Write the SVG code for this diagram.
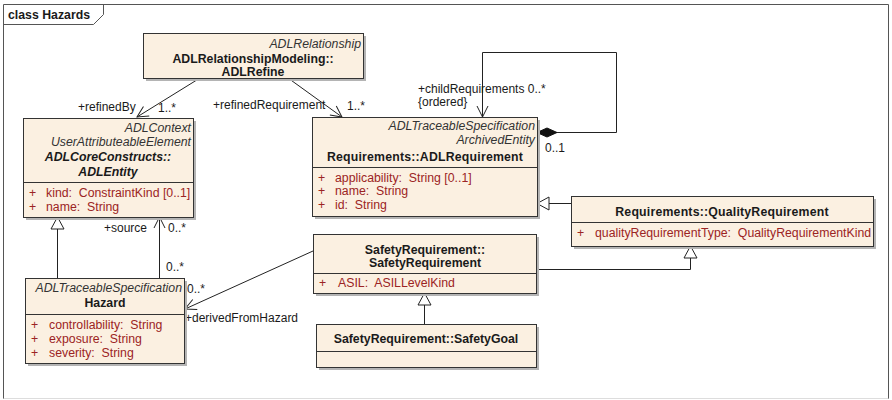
<svg xmlns="http://www.w3.org/2000/svg" width="892" height="400" viewBox="0 0 892 400">
  <style>
    text { font-family: "Liberation Sans", Arial, sans-serif; font-size: 12.3px; fill: #1a1a1a; white-space: pre; }
    .st { font-style: italic; fill: #333; }
    .nm { font-weight: bold; }
    .ni { font-weight: bold; font-style: italic; }
    .at { fill: #9b2424; }
    .lb { font-size: 12px; fill: #1a1a1a; }
    .box { fill: #fbf0e1; stroke: #333; stroke-width: 1; }
    .sh { fill: #b4b4b4; }
    .sep { stroke: #333; stroke-width: 1; }
    .ln { fill: none; stroke: #222; stroke-width: 1; }
    .frame { fill: none; stroke: #555; stroke-width: 1; }
  </style>
  <defs>
    <marker id="open" markerUnits="userSpaceOnUse" markerWidth="14" markerHeight="12" refX="11" refY="5.5" orient="auto" overflow="visible">
      <path d="M0,0 L11,5.5 L0,11" fill="none" stroke="#222" stroke-width="1"/>
    </marker>
    <marker id="gen" markerUnits="userSpaceOnUse" markerWidth="14" markerHeight="14" refX="12" refY="6.5" orient="auto" overflow="visible">
      <path d="M0,0 L12,6.5 L0,13 Z" fill="#fff" stroke="#222" stroke-width="1"/>
    </marker>
    <marker id="comp" markerUnits="userSpaceOnUse" markerWidth="22" markerHeight="10" refX="0" refY="4.5" orient="auto" overflow="visible">
      <path d="M0,4.5 L10,0 L20,4.5 L10,9 Z" fill="#111" stroke="#111" stroke-width="1"/>
    </marker>
  </defs>

  <!-- diagram frame -->
  <g id="frame">
    <path class="frame" d="M3.5,399 V4.5 H888.5 V399"/>
    <path d="M3.5,398.5 H888.5" stroke="#ddd" stroke-width="1"/>
    <path class="frame" d="M3.5,24.5 H93.5 L103.5,14.5 V4.5"/>
    <text x="8" y="19" class="nm">class Hazards</text>
  </g>

  <!-- connectors -->
  <g id="connectors">
    <path class="ln" d="M200,78 L137,117" marker-end="url(#open)"/>
    <path class="ln" d="M288,78 L342,117" marker-end="url(#open)"/>
    <path class="ln" d="M537,132.5 H616.5 V52.5 H482.5 V117" marker-start="url(#comp)" marker-end="url(#open)"/>
    <path class="ln" d="M57.5,278 V217" marker-end="url(#gen)"/>
    <path class="ln" d="M159.5,278 V217" marker-end="url(#open)"/>
    <path class="ln" d="M313,251 L185,309" marker-end="url(#open)"/>
    <path class="ln" d="M571,203.5 H537" marker-end="url(#gen)"/>
    <path class="ln" d="M536,269.5 H690.5 V246" marker-end="url(#gen)"/>
    <path class="ln" d="M424.5,324 V293" marker-end="url(#gen)"/>

    <text class="lb" x="78" y="111">+refinedBy</text>
    <text class="lb" x="158" y="112">1..*</text>
    <text class="lb" x="213" y="109">+refinedRequirement</text>
    <text class="lb" x="347" y="110">1..*</text>
    <text class="lb" x="418" y="93">+childRequirements 0..*</text>
    <text class="lb" x="418" y="106">{ordered}</text>
    <text class="lb" x="545" y="152">0..1</text>
    <text class="lb" x="104" y="232">+source</text>
    <text class="lb" x="168" y="232">0..*</text>
    <text class="lb" x="166" y="271">0..*</text>
    <text class="lb" x="187" y="293">0..*</text>
    <text class="lb" x="185" y="322">+derivedFromHazard</text>
  </g>

  <g id="ADLRefine">
    <rect class="sh" x="146" y="36" width="220" height="45"/>
    <rect class="box" x="143.5" y="33.5" width="220" height="45"/>
    <text class="st" x="361" y="48" text-anchor="end">ADLRelationship</text>
    <text class="nm" x="253" y="63" text-anchor="middle">ADLRelationshipModeling::</text>
    <text class="nm" x="253" y="76" text-anchor="middle">ADLRefine</text>
  </g>

  <g id="ADLEntity">
    <rect class="sh" x="26" y="121" width="170" height="99"/>
    <rect class="box" x="23.5" y="118.5" width="170" height="99"/>
    <line class="sep" x1="23.5" y1="182.5" x2="193.5" y2="182.5"/>
    <text class="st" x="191" y="132" text-anchor="end">ADLContext</text>
    <text class="st" x="191" y="146" text-anchor="end">UserAttributeableElement</text>
    <text class="ni" x="108" y="161" text-anchor="middle">ADLCoreConstructs::</text>
    <text class="ni" x="108" y="176" text-anchor="middle">ADLEntity</text>
    <text class="at" x="29" y="197">+</text>
    <text class="at" x="46" y="197">kind:  ConstraintKind [0..1]</text>
    <text class="at" x="29" y="211">+</text>
    <text class="at" x="46" y="211">name:  String</text>
  </g>

  <g id="ADLRequirement">
    <rect class="sh" x="315" y="120" width="225" height="99"/>
    <rect class="box" x="312.5" y="117.5" width="225" height="99"/>
    <line class="sep" x1="312.5" y1="167.5" x2="537.5" y2="167.5"/>
    <text class="st" x="535" y="130" text-anchor="end">ADLTraceableSpecification</text>
    <text class="st" x="535" y="144" text-anchor="end">ArchivedEntity</text>
    <text class="nm" x="425" y="161" text-anchor="middle" letter-spacing="0.2">Requirements::ADLRequirement</text>
    <text class="at" x="318" y="182">+</text>
    <text class="at" x="335" y="182">applicability:  String [0..1]</text>
    <text class="at" x="318" y="195">+</text>
    <text class="at" x="335" y="195">name:  String</text>
    <text class="at" x="318" y="209">+</text>
    <text class="at" x="335" y="209">id:  String</text>
  </g>

  <g id="QualityRequirement">
    <rect class="sh" x="574" y="199" width="302" height="50"/>
    <rect class="box" x="571.5" y="196.5" width="302" height="50"/>
    <line class="sep" x1="571.5" y1="222.5" x2="873.5" y2="222.5"/>
    <text class="nm" x="722" y="216" text-anchor="middle" letter-spacing="0.2">Requirements::QualityRequirement</text>
    <text class="at" x="577" y="237">+</text>
    <text class="at" x="595" y="237">qualityRequirementType:  QualityRequirementKind</text>
  </g>

  <g id="SafetyRequirement">
    <rect class="sh" x="316" y="237" width="223" height="59"/>
    <rect class="box" x="313.5" y="234.5" width="223" height="59"/>
    <line class="sep" x1="313.5" y1="273.5" x2="536.5" y2="273.5"/>
    <text class="nm" x="425" y="254" text-anchor="middle">SafetyRequirement::</text>
    <text class="nm" x="425" y="267" text-anchor="middle">SafetyRequirement</text>
    <text class="at" x="319" y="287">+</text>
    <text class="at" x="338" y="287">ASIL:  ASILLevelKind</text>
  </g>

  <g id="SafetyGoal">
    <rect class="sh" x="319" y="327" width="220" height="43"/>
    <rect class="box" x="316.5" y="324.5" width="220" height="43"/>
    <line class="sep" x1="316.5" y1="351.5" x2="536.5" y2="351.5"/>
    <text class="nm" x="426" y="343" text-anchor="middle">SafetyRequirement::SafetyGoal</text>
  </g>

  <g id="Hazard">
    <rect class="sh" x="28" y="281" width="159" height="85"/>
    <rect class="box" x="25.5" y="278.5" width="159" height="85"/>
    <line class="sep" x1="25.5" y1="314.5" x2="184.5" y2="314.5"/>
    <text class="st" x="182" y="292" text-anchor="end">ADLTraceableSpecification</text>
    <text class="nm" x="105" y="307" text-anchor="middle">Hazard</text>
    <text class="at" x="31" y="329">+</text>
    <text class="at" x="49" y="329">controllability:  String</text>
    <text class="at" x="31" y="343">+</text>
    <text class="at" x="49" y="343">exposure:  String</text>
    <text class="at" x="31" y="357">+</text>
    <text class="at" x="49" y="357">severity:  String</text>
  </g>
</svg>
